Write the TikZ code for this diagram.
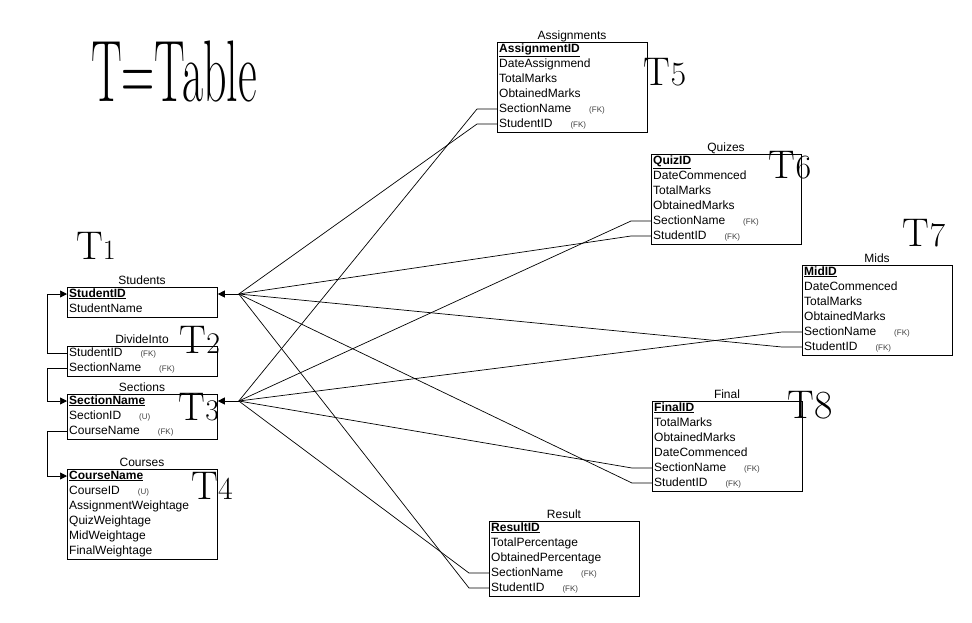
\documentclass[tikz,border=0pt]{standalone}
\usepackage{fontspec}
\setsansfont{Liberation Sans}
\usetikzlibrary{arrows.meta}
\newcommand\fk{\hspace{18pt}{\fontsize{8}{8}\selectfont\color{darkgray}(FK)}}
\newcommand\uq{\hspace{18pt}{\fontsize{8}{8}\selectfont\color{darkgray}(U)}}
\newcommand\pkey[1]{\textbf{\underline{#1}}}
\newcommand\dbtable[5]{%
  \node[tbl, minimum height={15pt*#4}] (#1) at (#2,#3) {};
  \node[ttl] (#1-title) at (#2+75,#3-3) {#5};}
\newcommand\dbrow[4]{\node[rw] (#1) at (#2,#3) {#4};}
\begin{document}
\begin{tikzpicture}[x=1pt,y=-1pt,
  tbl/.style={draw, line width=0.8pt, anchor=north west, minimum width=150pt, inner sep=0pt},
  ttl/.style={font=\sffamily\fontsize{12}{12}\selectfont, anchor=base, inner sep=0pt},
  rw/.style={font=\sffamily\fontsize{12}{12}\selectfont, anchor=base west, inner sep=0pt, text height=9pt, text depth=3pt},
  ln/.style={line width=0.7pt},
  arr/.style={line width=0.7pt, -{Triangle[length=7pt,width=7pt]}},
  hand/.style={font=\rmfamily\fontsize{40}{40}\selectfont, inner sep=0pt}]
\useasboundingbox[fill=white] (0,0) rectangle (972,622);

% Tables
\dbtable{stu}{67}{287}{2}{Students}
\dbrow{stupk}{69}{297}{\pkey{StudentID}}
\dbrow{stunm}{69}{312}{StudentName}

\dbtable{div}{67}{346}{2}{DivideInto}
\dbrow{divstu}{69}{356}{StudentID\fk}
\dbrow{divsec}{69}{371}{SectionName\fk}

\dbtable{sec}{67}{394}{3}{Sections}
\dbrow{secpk}{69}{404}{\pkey{SectionName}}
\dbrow{secid}{69}{419}{SectionID\uq}
\dbrow{seccrs}{69}{434}{CourseName\fk}

\dbtable{crs}{67}{469}{6}{Courses}
\dbrow{crspk}{69}{479}{\pkey{CourseName}}
\dbrow{crsid}{69}{494}{CourseID\uq}
\dbrow{crsaw}{69}{509}{AssignmentWeightage}
\dbrow{crsqw}{69}{524}{QuizWeightage}
\dbrow{crsmw}{69}{539}{MidWeightage}
\dbrow{crsfw}{69}{554}{FinalWeightage}

\dbtable{asg}{497}{42}{6}{Assignments}
\dbrow{asgpk}{499}{52}{\pkey{AssignmentID}}
\dbrow{asgd}{499}{67}{DateAssignmend}
\dbrow{asgt}{499}{82}{TotalMarks}
\dbrow{asgo}{499}{97}{ObtainedMarks}
\dbrow{asgsec}{499}{112}{SectionName\fk}
\dbrow{asgstu}{499}{127}{StudentID\fk}

\dbtable{qz}{651}{154}{6}{Quizes}
\dbrow{qzpk}{653}{164}{\pkey{QuizID}}
\dbrow{qzd}{653}{179}{DateCommenced}
\dbrow{qzt}{653}{194}{TotalMarks}
\dbrow{qzo}{653}{209}{ObtainedMarks}
\dbrow{qzsec}{653}{224}{SectionName\fk}
\dbrow{qzstu}{653}{239}{StudentID\fk}

\dbtable{mid}{802}{265}{6}{Mids}
\dbrow{midpk}{804}{275}{\pkey{MidID}}
\dbrow{midd}{804}{290}{DateCommenced}
\dbrow{midt}{804}{305}{TotalMarks}
\dbrow{mido}{804}{320}{ObtainedMarks}
\dbrow{midsec}{804}{335}{SectionName\fk}
\dbrow{midstu}{804}{350}{StudentID\fk}

\dbtable{fin}{652}{401}{6}{Final}
\dbrow{finpk}{654}{411}{\pkey{FinalID}}
\dbrow{fint}{654}{426}{TotalMarks}
\dbrow{fino}{654}{441}{ObtainedMarks}
\dbrow{find}{654}{456}{DateCommenced}
\dbrow{finsec}{654}{471}{SectionName\fk}
\dbrow{finstu}{654}{486}{StudentID\fk}

\dbtable{res}{489}{521}{5}{Result}
\dbrow{respk}{491}{531}{\pkey{ResultID}}
\dbrow{rest}{491}{546}{TotalPercentage}
\dbrow{reso}{491}{561}{ObtainedPercentage}
\dbrow{ressec}{491}{576}{SectionName\fk}
\dbrow{resstu}{491}{591}{StudentID\fk}

% Left loops
\draw[arr] (div.west |- divstu.west) -- ++(-20,0) |- (stu.west |- stupk.west);
\draw[arr] (div.west |- divsec.west) -- ++(-20,0) |- (sec.west |- secpk.west);
\draw[arr] (sec.west |- seccrs.west) -- ++(-20,0) |- (crs.west |- crspk.west);

% Hubs
\path (stu.east |- stupk.west) ++(21,0) coordinate (stuhub);
\path (sec.east |- secpk.west) ++(21,0) coordinate (sechub);
\draw[arr] (stuhub) -- (stu.east |- stupk.west);
\draw[arr] (sechub) -- (sec.east |- secpk.west);

% Foreign keys to Students
\foreach \t/\r in {asg/asgstu, qz/qzstu, mid/midstu, fin/finstu, res/resstu}
  \draw[ln] (\t.west |- \r.west) -- ++(-20,0) -- (stuhub);
% Foreign keys to Sections
\foreach \t/\r in {asg/asgsec, qz/qzsec, mid/midsec, fin/finsec, res/ressec}
  \draw[ln] (\t.west |- \r.west) -- ++(-20,0) -- (sechub);

% Handwritten notes
\node[hand, font=\rmfamily\fontsize{46}{46}\selectfont, yscale=1.9] (legend) at (174,72) {T=Table};
\node[hand] (t1) at (96,246) {T\fontsize{28}{28}\selectfont 1};
\node[hand] (t2) at (200,340) {T\fontsize{30}{30}\selectfont 2};
\node[hand] (t3) at (199,407) {T\fontsize{30}{30}\selectfont 3};
\node[hand] (t4) at (212,486) {T\fontsize{32}{32}\selectfont 4};
\node[hand] (t5) at (665,72) {T\fontsize{34}{34}\selectfont 5};
\node[hand] (t6) at (790,165) {T\fontsize{34}{34}\selectfont 6};
\node[hand] (t7) at (924,233) {T\fontsize{34}{34}\selectfont 7};
\node[hand] (t8) at (810,405) {T\fontsize{40}{40}\selectfont 8};
\end{tikzpicture}
\end{document}
